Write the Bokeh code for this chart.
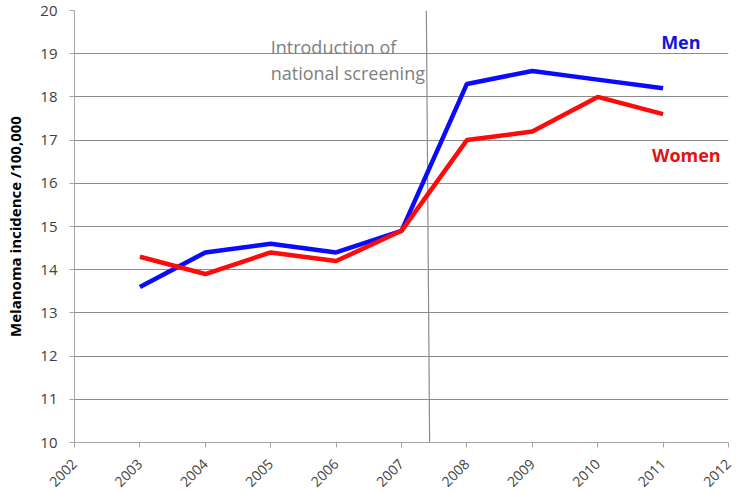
import math
from bokeh.plotting import figure
from bokeh.models import Range1d, FixedTicker, Label
from bokeh.embed import file_html
from bokeh.resources import INLINE

years = [2003, 2004, 2005, 2006, 2007, 2008, 2009, 2010, 2011]
men = [13.6, 14.4, 14.6, 14.4, 14.9, 18.3, 18.6, 18.4, 18.2]
women = [14.3, 13.9, 14.4, 14.2, 14.9, 17.0, 17.2, 18.0, 17.6]
x_ticks = list(range(2002, 2013))
y_ticks = list(range(10, 21))
screening_top = [2007.38, 20]
screening_bottom = [2007.43, 10]

FONT = "Open Sans"

p = figure(width=737, height=494, output_backend="svg", toolbar_location=None,
           x_range=Range1d(2002, 2012), y_range=Range1d(10, 20),
           min_border_left=74, min_border_top=10, min_border_right=9, min_border_bottom=51)
p.outline_line_color = None
p.xgrid.grid_line_color = None
p.ygrid.grid_line_color = "#8c8c8c"
p.ygrid.ticker = FixedTicker(ticks=y_ticks)

p.xaxis.ticker = FixedTicker(ticks=x_ticks)
p.yaxis.ticker = FixedTicker(ticks=y_ticks)
for ax in (p.xaxis[0], p.yaxis[0]):
    ax.axis_line_color = "#a6a6a6"
    ax.major_tick_line_color = "#a6a6a6"
    ax.major_tick_out = 5
    ax.major_tick_in = 0
    ax.minor_tick_line_color = None
    ax.major_label_text_font = FONT
    ax.major_label_text_font_size = "15px"
    ax.major_label_text_color = "#404040"
p.xaxis.major_label_orientation = math.pi / 4
p.xaxis.major_label_text_font_size = "14px"
p.xaxis.major_label_standoff = 14
p.yaxis.major_label_standoff = 12
p.yaxis.axis_label = "Melanoma incidence /100,000"
p.yaxis.axis_label_text_font = FONT
p.yaxis.axis_label_text_font_size = "15px"
p.yaxis.axis_label_text_font_style = "bold"
p.yaxis.axis_label_text_color = "#000000"
p.yaxis.axis_label_standoff = 12

p.segment(x0=[screening_top[0]], y0=[screening_top[1]], x1=[screening_bottom[0]], y1=[screening_bottom[1]],
          line_color="#8c8c8c", line_width=1.2)

p.line(years, men, line_color="#0a0aff", line_width=4.5)
p.line(years, women, line_color="#ff0a0a", line_width=4.5)

p.add_layout(Label(x=2005.0, y=19.15, text="Introduction of", text_font=FONT, text_font_size="18px",
                   text_color="#808080", text_baseline="alphabetic"))
p.add_layout(Label(x=2005.0, y=18.55, text="national screening", text_font=FONT, text_font_size="18px",
                   text_color="#808080", text_baseline="alphabetic"))
p.add_layout(Label(x=2010.97, y=19.26, text="Men", text_font=FONT, text_font_size="18px",
                   text_font_style="bold", text_color="#1414d2", text_baseline="middle"))
p.add_layout(Label(x=2010.83, y=16.65, text="Women", text_font=FONT, text_font_size="18px",
                   text_font_style="bold", text_color="#e01414", text_baseline="middle"))

open("out.html", "w").write(file_html(p, INLINE))
